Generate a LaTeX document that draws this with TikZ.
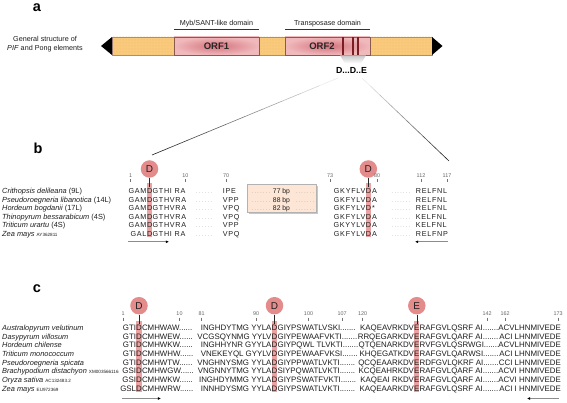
\documentclass[tikz,border=0pt]{standalone}
\usepackage{fontspec}
\setmainfont{Liberation Sans}
\newfontfamily\seqbfont[LetterSpace=10]{Liberation Sans}
\newfontfamily\dotsfont[LetterSpace=30]{Liberation Sans}
\usetikzlibrary{arrows.meta,calc,patterns}
\definecolor{orfyel}{HTML}{F9C97C}
\definecolor{orfdot}{HTML}{F2B868}
\definecolor{orfin}{HTML}{D4727C}
\definecolor{orfout}{HTML}{F0B9BC}
\definecolor{orfedge}{HTML}{8A5A4C}
\definecolor{stripe}{HTML}{7A1E22}
\definecolor{circ}{HTML}{E48C8C}
\definecolor{hil}{HTML}{EAA2A2}
\definecolor{boxfill}{HTML}{FDE6D6}
\definecolor{txt}{HTML}{1E1E1E}
\newcommand\brow[8]{%
 \pgfmathsetmacro\yy{193.6+8.5*#1}
 \node[sp,anchor=base west] (bs#1) at (2,\yy) {#2};
 \node[sqb,anchor=base east] (ba#1) at (146.6,\yy) {#3};
 \node[sqb,anchor=base] (bd#1) at (149.6,\yy) {D};
 \node[sqb,anchor=base west] (bb#1) at (152.4,\yy) {#4};
 \node[dotsb,anchor=base] (bx#1) at (204,\yy) {......};
 \node[sqb,anchor=base west] (bc#1) at (222.7,\yy) {#5};
 \node[sqb,anchor=base east] (be#1) at (365.6,\yy) {#6};
 \node[sqb,anchor=base] (bf#1) at (368.4,\yy) {D};
 \node[sqb,anchor=base west] (bg#1) at (372,\yy) {#7};
 \node[dotsb,anchor=base] (by#1) at (401,\yy) {.......};
 \node[sqb,anchor=base west] (bh#1) at (415.7,\yy) {#8};
}
\newcommand\crow[9]{%
 \pgfmathsetmacro\yy{330.6+8.67*#1}
 \node[sp,anchor=base west] (cs#1) at (2,\yy) {#2};
 \node[sq,anchor=base east] (ca#1) at (136.3,\yy) {#3};
 \node[sq,anchor=base] (cd#1) at (139,\yy) {D};
 \node[sq,anchor=base west] (cb#1) at (141.8,\yy) {#4};
 \node[sq,anchor=base east] (cc#1) at (271.7,\yy) {#5};
 \node[sq,anchor=base] (ce#1) at (274.5,\yy) {D};
 \node[sq,anchor=base west] (cf#1) at (277.4,\yy) {#6};
 \node[sq,anchor=base east] (cg#1) at (414.2,\yy) {#7};
 \node[sq,anchor=base] (ch#1) at (416.8,\yy) {E};
 \node[sq,anchor=base west] (ci#1) at (419.5,\yy) {#8};
 \node[sq,anchor=base east] (cj#1) at (561,\yy) {#9};
}
\newcommand\numtick[4]{%
 \node[num,anchor=base] (#4) at (#1,#2) {#3};
 \draw[black!55,line width=0.4pt] ($(#4.base)+(0,2)$) -- ($(#4.base)+(0,5)$);
}
\newcommand\accn[1]{{\fontsize{4.6}{5}\selectfont #1}}
\begin{document}
\begin{tikzpicture}[x=1pt,y=-1pt,
  lab/.style={font=\fontsize{14.5}{16}\selectfont\bfseries, inner sep=0},
  sp/.style={font=\fontsize{7.4}{8}\selectfont, inner sep=0, text=txt},
  sq/.style={font=\fontsize{7.9}{9}\selectfont, inner sep=0, text=txt},
  sqb/.style={font=\seqbfont\fontsize{7.2}{8}\selectfont, inner sep=0, text=txt},
  dotsb/.style={font=\dotsfont\fontsize{5}{6}\selectfont, inner sep=0, text=black!45},
  num/.style={font=\fontsize{5.4}{6}\selectfont, inner sep=0, text=black!60},
  dom/.style={font=\fontsize{7.2}{8}\selectfont, inner sep=0, text=txt},
  bubble/.style={circle, fill=circ, minimum size=17.5pt, inner sep=0, font=\fontsize{10}{11}\selectfont, text=txt},
  conn/.style={black!85, line width=0.6pt},
  seqarrow/.style={black!45, line width=0.9pt, -{Latex[length=3.2pt,width=3pt,color=black]}},
]
\useasboundingbox (0,0) rectangle (567,403);
\fill[white] (0,0) rectangle (567,403);

% ---------------- a ----------------
\node[lab,anchor=base] (la) at (37,12) {a};
\node[dom,align=center,font=\fontsize{7.2}{9.5}\selectfont] (gen) at (45,44) {General structure of\\\textit{PIF} and Pong elements};

\fill[orfyel] (112,37) rectangle (432,55);
\fill[pattern=dots, pattern color=orfdot] (112,37) rectangle (432,55);
\draw[orfedge!70,line width=0.5pt] (112,37) rectangle (432,55);
\shade[inner color=orfin, outer color=orfout] (174,37) rectangle (259,55);
\shade[inner color=orfin, outer color=orfout] (285,37) rectangle (370,55);
\draw[orfedge,line width=0.6pt] (174,37) rectangle (259,55);
\draw[orfedge,line width=0.6pt] (285,37) rectangle (370,55);
\node[font=\fontsize{9.5}{10}\selectfont\bfseries, text=black!85] (orf1) at (216.5,46.5) {ORF1};
\node[font=\fontsize{9.5}{10}\selectfont\bfseries, text=black!85] (orf2) at (322,46.5) {ORF2};
\foreach \sx in {343.3,352.5,358.2} \fill[stripe] (\sx-1,37) rectangle (\sx+1,55);
\fill[black] (101,46) -- (112,37) -- (112,55) -- cycle;
\fill[black] (442.5,46) -- (432,37) -- (432,55) -- cycle;

\node[dom,anchor=base] (myb) at (216.5,26) {Myb/SANT-like domain};
\draw[black!80,line width=0.6pt] (174,29.5) -- (259,29.5);
\node[dom,anchor=base] (tra) at (327.5,26) {Transposase domain};
\draw[black!80,line width=0.6pt] (285,29.5) -- (370,29.5);

\shade[top color=black!22, bottom color=white] (340,55.3) -- (366,55.3) -- (361,63.5) -- (345,63.5) -- cycle;
\node[font=\fontsize{8.8}{10}\selectfont\bfseries, text=black] (dde) at (351.5,70.5) {D...D..E};

\coordinate (p1) at (338,78);
\coordinate (q1) at (152,155);
\coordinate (p2) at (362,78);
\coordinate (q2) at (449,161);
\foreach \i [evaluate=\i as \c using int(8+9*\i), evaluate=\i as \j using \i+1] in {0,...,9}{
  \draw[black!\c, line width=0.6pt] ($(p1)!\i/10!(q1)$) -- ($(p1)!\j/10!(q1)$);
  \draw[black!\c, line width=0.6pt] ($(p2)!\i/10!(q2)$) -- ($(p2)!\j/10!(q2)$);
}

% ---------------- b ----------------
\node[lab,anchor=base] (lb) at (38,153.3) {b};
\fill[hil] (146.8,183) rectangle (152.2,237.5);
\fill[hil] (365.6,183) rectangle (371,237.5);
\node[bubble] (bD1) at (149.5,169) {D};
\node[bubble] (bD2) at (368.3,169) {D};
\coordinate (bt1) at (149.5,187);
\coordinate (bt2) at (368.3,187);
\draw[conn] (bD1) -- (bt1);
\draw[conn] (bD2) -- (bt2);

\numtick{130.5}{177.5}{1}{bn1}
\numtick{185.3}{177.5}{10}{bn2}
\numtick{226}{177.5}{70}{bn3}
\numtick{330}{177.5}{73}{bn4}
\numtick{377}{177.5}{80}{bn5}
\numtick{421}{177.5}{112}{bn6}
\numtick{447}{177.5}{117}{bn7}

\fill[black!22] (248.5,186.5) rectangle (318,214);
\draw[black!30,line width=1pt,fill=boxfill] (247,185) rectangle (316.5,212.5);

\brow{0}{\textit{Crithopsis delileana} (9L)}{GAM}{GTHI RA}{IPE}{GKYFLV}{A}{RELFNL}
\brow{1}{\textit{Pseudoroegneria libanotica} (14L)}{GAM}{GTHVRA}{VPP}{GKFYLV}{A}{RELFNL}
\brow{2}{\textit{Hordeum bogdanii} (17L)}{GAM}{GTHVRA}{VPQ}{GKFYLV}{*}{RELFNL}
\brow{3}{\textit{Thinopyrum bessarabicum} (4S)}{GAM}{GTHVRA}{VPQ}{GKFYLV}{A}{KELFNL}
\brow{4}{\textit{Triticum urartu} (4S)}{GAM}{GTHVRA}{VPP}{GKYYLV}{A}{KELFNL}
\brow{5}{\textit{Zea mays} \accn{AY362811}}{GAL}{GTHI RA}{VPQ}{GKFYLV}{A}{RELFNP}

\foreach \k/\bp in {0/77,1/88,2/82}{
  \pgfmathsetmacro\yy{193.6+8.5*\k}
  \node[dotsb,anchor=base] (bk1\k) at (261,\yy) {.......};
  \node[font=\fontsize{6.8}{7}\selectfont, inner sep=0, text=txt, anchor=base] (bk2\k) at (281.5,\yy) {\bp{} bp};
  \node[dotsb,anchor=base] (bk3\k) at (305,\yy) {.......};
}

\coordinate (ba1s) at (128,241.8);
\coordinate (ba1e) at (169,241.8);
\coordinate (ba2s) at (448,241.8);
\coordinate (ba2e) at (415,241.8);
\draw[seqarrow] (ba1s) -- (ba1e);
\draw[seqarrow] (ba2s) -- (ba2e);

% ---------------- c ----------------
\node[lab,anchor=base] (lc) at (37,292.7) {c};
\fill[hil] (136.3,321) rectangle (141.7,392);
\fill[hil] (271.7,321) rectangle (277.3,392);
\fill[hil] (414.2,321) rectangle (419.4,392);
\node[bubble] (cD1) at (139,305.7) {D};
\node[bubble] (cD2) at (274.5,305.7) {D};
\node[bubble] (cE) at (416.8,305.7) {E};
\coordinate (ct1) at (139,324);
\coordinate (ct2) at (274.5,324);
\coordinate (ct3) at (416.8,324);
\draw[conn] (cD1) -- (ct1);
\draw[conn] (cD2) -- (ct2);
\draw[conn] (cE) -- (ct3);

\numtick{123}{315.5}{1}{cn1}
\numtick{179.5}{315.5}{10}{cn2}
\numtick{201.5}{315.5}{81}{cn3}
\numtick{256}{315.5}{90}{cn4}
\numtick{308.5}{315.5}{100}{cn5}
\numtick{342}{315.5}{107}{cn6}
\numtick{362.5}{315.5}{120}{cn7}
\numtick{487}{315.5}{142}{cn8}
\numtick{505}{315.5}{162}{cn9}
\numtick{558}{315.5}{173}{cn10}

\crow{0}{\textit{Australopyrum velutinum}}{GTI}{CMHWAW......}{INGHDYTMG YYLA}{GIYPSWATLVSKI.......}{KAQEAVRKDV}{RAFGVLQSRF AI.......}{ACVLHNMIVEDE}
\crow{1}{\textit{Dasypyrum villosum}}{GTI}{CMHWEW......}{VCGSQYNMG YYLV}{GIYPEWAAFVKTI.......}{RRQEGARKDV}{RAFGVLQARF AI.......}{ACI LHNMIVEDE}
\crow{2}{\textit{Hordeum chilense}}{GTI}{CMHWKW......}{INGHHYNR GYYLA}{GIYPQWL TLVKTI.......}{QTQENARKDV}{RVFGVLQSRWGI.......}{ACVLHNMIVEDE}
\crow{3}{\textit{Triticum monococcum}}{GTI}{CMHWHW......}{VNEKEYQL GYYLV}{GIYPEWAAFVKSI.......}{KHQEGATKDV}{RAFGVLQARWSI.......}{ACI LHNMIVEDE}
\crow{4}{\textit{Pseudoroegneria spicata}}{GTI}{CMHWTW......}{VNGHNYSMG YYLA}{GIYPPWATLVKTI.......}{QCQEAARKDV}{RDFGVLQKRF AI.......}{CCI LHNMIVEDE}
\crow{5}{\textit{Brachypodium distachyon} \accn{XM003566116}}{GSI}{CMHWGW......}{VNGNNYTMG YYLA}{SIYPQWATLVKTI.......}{KCQEAHRKDV}{RAFGVLQARF AI.......}{ACVI HNMIVEDE}
\crow{6}{\textit{Oryza sativa} \accn{AC132483.2}}{GSI}{CMHWKW......}{INGHDYMMG YYLA}{GIYPSWATFVKTI.......}{KAQEAI RKDV}{RAFGVLQARF AI.......}{ACVI HNMIVEDE}
\crow{7}{\textit{Zea mays} \accn{EU972369}}{GSL}{CMHWRW......}{INNHDYSMG YYLA}{GIYPSWATLVKTI.......}{KAQEAARKDV}{RAFGVLQSRF AI.......}{ACI I HNMIVEDE}

\coordinate (ca1s) at (122,398.5);
\coordinate (ca1e) at (161,398.5);
\coordinate (ca2s) at (559,398.5);
\coordinate (ca2e) at (527,398.5);
\draw[seqarrow] (ca1s) -- (ca1e);
\draw[seqarrow] (ca2s) -- (ca2e);
\end{tikzpicture}
\end{document}
